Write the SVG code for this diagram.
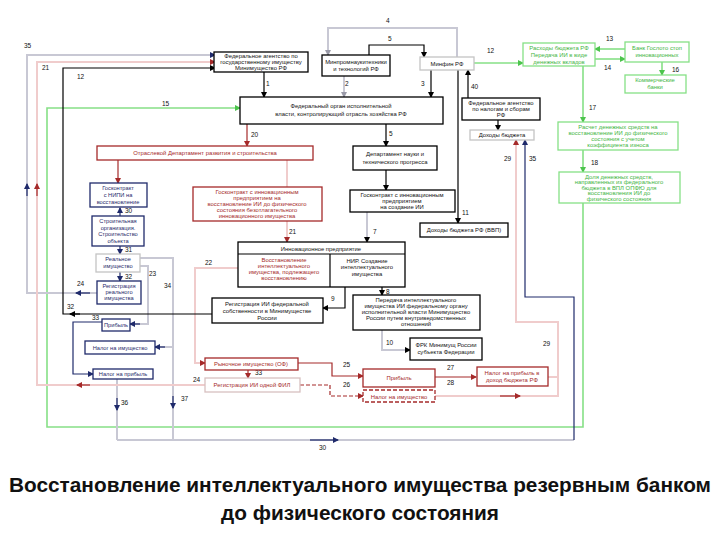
<svg xmlns="http://www.w3.org/2000/svg" width="720" height="540" viewBox="0 0 720 540">
<style>
.b{fill:#fff;stroke:#000;stroke-width:1.3}
.g{fill:#fff;stroke:#c4c4c4;stroke-width:1.3}
.r{fill:#fff;stroke:#a52a2a;stroke-width:1.3}
.rd{fill:#fff;stroke:#a52a2a;stroke-width:1.3;stroke-dasharray:4 2}
.rg{fill:#fff;stroke:#d8c0c0;stroke-width:1.3}
.n{fill:#fff;stroke:#1f2a6b;stroke-width:1.3}
.gn{fill:#fff;stroke:#86e086;stroke-width:1.3}
text{font-family:"Liberation Sans",Arial,sans-serif}
.t{font-size:5.9px;text-anchor:middle;fill:#111}
.tr{font-size:5.9px;text-anchor:middle;fill:#a52a2a}
.tn{font-size:5.7px;text-anchor:middle;fill:#1f2a6b}
.tg{font-size:5.9px;text-anchor:middle;fill:#3fb53f}
.l{font-size:6.5px;fill:#111}
.cap{font-size:20.8px;font-weight:bold;text-anchor:middle;fill:#111}
.k{fill:none;stroke:#000;stroke-width:1.2}
.gy{fill:none;stroke:#c8c8d4;stroke-width:2}
.rl{fill:none;stroke:#a52a2a;stroke-width:1.2}
.pk{fill:none;stroke:#f0cccc;stroke-width:2}
.nv{fill:none;stroke:#1f2a6b;stroke-width:1.2}
.gl{fill:none;stroke:#86e086;stroke-width:1.6}
</style>
<defs>
<marker id="ak" markerWidth="6" markerHeight="6" refX="5" refY="3" orient="auto" markerUnits="userSpaceOnUse"><path d="M0,0L6,3L0,6z" fill="#000"/></marker>
<marker id="ag" markerWidth="6" markerHeight="6" refX="5" refY="3" orient="auto" markerUnits="userSpaceOnUse"><path d="M0,0L6,3L0,6z" fill="#9a9aa8"/></marker>
<marker id="ar" markerWidth="6" markerHeight="6" refX="5" refY="3" orient="auto" markerUnits="userSpaceOnUse"><path d="M0,0L6,3L0,6z" fill="#a52a2a"/></marker>
<marker id="an" markerWidth="6" markerHeight="6" refX="5" refY="3" orient="auto" markerUnits="userSpaceOnUse"><path d="M0,0L6,3L0,6z" fill="#1f2a6b"/></marker>
<marker id="agn" markerWidth="6" markerHeight="6" refX="5" refY="3" orient="auto" markerUnits="userSpaceOnUse"><path d="M0,0L6,3L0,6z" fill="#4cc44c"/></marker>
</defs>
<rect width="720" height="540" fill="#fff"/>

<g id="connectors">
<path class="gy" d="M457,57V28H328V55" marker-end="url(#ag)"/>
<path class="k" d="M369,55V45H424V57" marker-end="url(#ak)"/>
<path class="k" d="M264,72V97" marker-end="url(#ak)"/>
<path class="gy" d="M344,76V97" marker-end="url(#ag)"/>
<path class="k" d="M431,70V97" marker-end="url(#ak)"/>
<path class="k" d="M468,98V70" marker-end="url(#ak)"/>
<path class="k" d="M458,70V223" marker-end="url(#ak)"/>
<path class="gl" d="M474,63H523" marker-end="url(#agn)"/>
<path class="gl" d="M625,49H595" marker-end="url(#agn)"/>
<path class="gl" d="M595,59H625" marker-end="url(#agn)"/>
<path class="gl" d="M662,62V75" marker-end="url(#agn)"/>
<path class="gl" d="M583,66V122" marker-end="url(#agn)"/>
<path class="gl" d="M583,150V172" marker-end="url(#agn)"/>
<path class="gl" d="M583,203V427H47V108H240" marker-end="url(#agn)"/>
<path class="k" d="M498,120V130" marker-end="url(#ak)"/>
<path class="rl" d="M247,124V146" marker-end="url(#ar)"/>
<path class="rl" d="M118,160V183" marker-end="url(#ar)"/>
<path class="pk" d="M287,160V187"/>
<path class="k" d="M386,124V146" marker-end="url(#ak)"/>
<path class="k" d="M386,170V190" marker-end="url(#ak)"/>
<path class="gy" d="M367,212V242" marker-end="url(#ak)"/>
<path class="pk" d="M287,221V242" marker-end="url(#ar)"/>
<path class="pk" d="M238,268H195V363H205" marker-end="url(#ar)"/>
<path class="k" d="M382,287V295" marker-end="url(#ak)"/>
<path class="k" d="M345,287V308H323" marker-end="url(#ak)"/>
<path class="gy" d="M382,330V350H410" marker-end="url(#ak)"/>
<path class="rl" d="M248,370V378" marker-end="url(#ar)"/>
<path class="rl" d="M298,363H332V376H363" marker-end="url(#ar)"/>
<path class="rl" d="M300,385H330V396H363" stroke-dasharray="4 2" marker-end="url(#ar)"/>
<path class="rl" d="M435,377H476" marker-end="url(#ar)"/>
<path class="pk" d="M435,396H558V322H516V140" marker-end="url(#ar)"/>
<path class="pk" d="M548,377H558"/>
<path class="rl" d="M500,396H520" marker-end="url(#ar)"/>
<path class="gy" d="M117,440H574"/>
<path class="nv" d="M574,440V297H525V140" marker-end="url(#an)"/>
<path class="nv" d="M310,440H338" stroke-width="2" marker-end="url(#an)"/>
<path class="gy" d="M117,379V440"/>
<path class="nv" d="M117,398V410" marker-end="url(#an)"/>
<path class="gy" d="M140,258H173V440"/>
<path class="nv" d="M173,396V408" marker-end="url(#an)"/>
<path class="gy" d="M173,347H157"/>
<path class="nv" d="M165,347H155" marker-end="url(#an)"/>
<path class="gy" d="M140,266H148V324H132"/>
<path class="nv" d="M140,324H130" marker-end="url(#an)"/>
<path class="nv" d="M102,322H73V374H93" marker-end="url(#an)"/>
<path class="nv" d="M120,216V208" stroke-width="1.6" marker-end="url(#an)"/>
<path class="nv" d="M120,246V254" stroke-width="1.6" marker-end="url(#an)"/>
<path class="nv" d="M120,272V281" stroke-width="1.6" marker-end="url(#an)"/>
<path class="gy" d="M97,293H27V55H215" marker-end="url(#an)"/>
<path class="nv" d="M90,293H76" stroke-width="1.6" marker-end="url(#an)"/>
<path class="nv" d="M27,196V184" marker-end="url(#an)"/>
<path class="pk" d="M205,385H37V62H215" marker-end="url(#ar)"/>
<path class="rl" d="M90,385H77" stroke-width="1.8" marker-end="url(#ar)"/>
<path class="rl" d="M37,196V184" marker-end="url(#ar)"/>
<path class="k" d="M212,314H63V68H215" marker-end="url(#ak)"/>
<path class="k" d="M80,314H70" marker-end="url(#ak)"/>
</g>

<g id="labels">
<text class="l" x="24" y="48">35</text>
<text class="l" x="42" y="70">21</text>
<text class="l" x="77" y="79">12</text>
<text class="l" x="162" y="106">15</text>
<text class="l" x="386" y="23">4</text>
<text class="l" x="388" y="41">5</text>
<text class="l" x="266" y="86">1</text>
<text class="l" x="345" y="86">2</text>
<text class="l" x="421" y="86">3</text>
<text class="l" x="471" y="89">40</text>
<text class="l" x="487" y="53">12</text>
<text class="l" x="606" y="41">13</text>
<text class="l" x="604" y="70">14</text>
<text class="l" x="672" y="72">16</text>
<text class="l" x="589" y="110">17</text>
<text class="l" x="591" y="165">18</text>
<text class="l" x="251" y="137">20</text>
<text class="l" x="389" y="136">5</text>
<text class="l" x="504" y="161">29</text>
<text class="l" x="529" y="161">35</text>
<text class="l" x="462" y="215">11</text>
<text class="l" x="125" y="213">30</text>
<text class="l" x="125" y="252">31</text>
<text class="l" x="125" y="279">32</text>
<text class="l" x="149" y="276">23</text>
<text class="l" x="164" y="288">34</text>
<text class="l" x="77" y="286">24</text>
<text class="l" x="67" y="309">32</text>
<text class="l" x="92" y="320">33</text>
<text class="l" x="205" y="265">22</text>
<text class="l" x="373" y="234">7</text>
<text class="l" x="289" y="234">21</text>
<text class="l" x="331" y="301">9</text>
<text class="l" x="386" y="294">8</text>
<text class="l" x="386" y="345">10</text>
<text class="l" x="255" y="375">33</text>
<text class="l" x="343" y="367">25</text>
<text class="l" x="343" y="387">26</text>
<text class="l" x="447" y="370">27</text>
<text class="l" x="447" y="385">28</text>
<text class="l" x="543" y="346">29</text>
<text class="l" x="193" y="382">24</text>
<text class="l" x="121" y="405">36</text>
<text class="l" x="181" y="401">37</text>
<text class="l" x="319" y="450">30</text>
</g>

<g id="n-fedagency"><rect class="b" x="214" y="52" width="94" height="20"/>
<text class="t" x="261" y="58">Федеральное агентство по</text><text class="t" x="261" y="64">государственному имуществу</text><text class="t" x="261" y="70">Минимущество РФ</text></g>
<g id="n-minprom"><rect class="b" x="322" y="55" width="68" height="21"/>
<text class="t" x="356" y="64">Минпромнаукитехники</text><text class="t" x="356" y="71">и технологий РФ</text></g>
<g id="n-minfin"><rect class="g" x="420" y="57" width="54" height="13"/>
<text class="t" x="447" y="65.5">Минфин РФ</text></g>
<g id="n-fedorgan"><rect class="b" x="240" y="97" width="203" height="27"/>
<text class="t" x="341" y="108">Федеральный орган исполнительной</text><text class="t" x="341" y="116">власти, контролирующий отрасль хозяйства РФ</text></g>
<g id="n-tax"><rect class="b" x="462" y="98" width="78" height="22"/>
<text class="t" x="501" y="105">Федеральное агентство</text><text class="t" x="501" y="111">по налогам и сборам</text><text class="t" x="501" y="117">РФ</text></g>
<g id="n-income"><rect class="g" x="470" y="130" width="64" height="10"/>
<text class="t" x="502" y="137">Доходы бюджета</text></g>
<g id="n-otrasl"><rect class="r" x="97" y="146" width="216" height="14"/>
<text class="tr" x="205" y="155">Отраслевой Департамент   развития и строительства</text></g>
<g id="n-dept"><rect class="b" x="353" y="146" width="84" height="24"/>
<text class="t" x="395" y="156">Департамент науки и</text><text class="t" x="395" y="164">технического прогресса</text></g>
<g id="n-gkinno"><rect class="b" x="350" y="190" width="105" height="22"/>
<text class="t" x="402" y="197">Госконтракт с инновационным</text><text class="t" x="402" y="203">предприятием</text><text class="t" x="402" y="209">на создание ИИ</text></g>
<g id="n-incomerf"><rect class="b" x="420" y="223" width="88" height="14"/>
<text class="t" x="464" y="232">Доходы бюджета РФ (ВВП)</text></g>
<g id="n-gkred"><rect class="r" x="193" y="187" width="129" height="34"/>
<text class="tr" x="257" y="194">Госконтракт с инновационным</text><text class="tr" x="257" y="200">предприятием на</text><text class="tr" x="257" y="206">восстановление ИИ до физического</text><text class="tr" x="257" y="212">состояния безотлагательного</text><text class="tr" x="257" y="218">инновационного имущества</text></g>
<g id="n-innov"><rect class="b" x="238" y="242" width="167" height="45"/>
<line x1="238" y1="254" x2="405" y2="254" stroke="#000" stroke-width="1.2"/>
<line x1="330" y1="254" x2="330" y2="287" stroke="#000" stroke-width="1.2"/>
<text class="t" x="321" y="250.5">Инновационное предприятие</text>
<text class="tr" x="284" y="262">Восстановление</text><text class="tr" x="284" y="268">интеллектуального</text><text class="tr" x="284" y="274">имущества, подлежащего</text><text class="tr" x="284" y="280">восстановлению</text>
<text class="t" x="367" y="263">НИР. Создание</text><text class="t" x="367" y="269">интеллектуального</text><text class="t" x="367" y="276">имущества</text></g>
<g id="n-regfed"><rect class="b" x="212" y="298" width="111" height="25"/>
<text class="t" x="267" y="306">Регистрация ИИ федеральной</text><text class="t" x="267" y="313">собственности в Минимуществе</text><text class="t" x="267" y="320">России</text></g>
<g id="n-transfer"><rect class="b" x="353" y="295" width="127" height="35"/>
<text class="t" x="416" y="302">Передача интеллектуального</text><text class="t" x="416" y="308">имущества ИИ федеральному органу</text><text class="t" x="416" y="314">исполнительной власти Минимущество</text><text class="t" x="416" y="320">России путем внутриведомственных</text><text class="t" x="416" y="326">отношений</text></g>
<g id="n-frk"><rect class="b" x="410" y="338" width="72" height="22"/>
<text class="t" x="446" y="347">ФРК Минимущ России</text><text class="t" x="446" y="354">субъекта Федерации</text></g>
<g id="n-market"><rect class="r" x="205" y="358" width="93" height="12"/>
<text class="tr" x="251" y="366">Рыночное имущество (ОФ)</text></g>
<g id="n-regii"><rect class="rg" x="205" y="378" width="95" height="14"/>
<text class="tr" x="252" y="387">Регистрация ИИ одной ФИЛ</text></g>
<g id="n-profitr"><rect class="r" x="363" y="369" width="72" height="18"/>
<text class="tr" x="399" y="380">Прибыль</text></g>
<g id="n-taxpropr"><rect class="rd" x="363" y="390" width="72" height="12"/>
<text class="tr" x="399" y="398.5">Налог на имущество</text></g>
<g id="n-taxprofitr"><rect class="r" x="477" y="367" width="71" height="19"/>
<text class="tr" x="512" y="375">Налог на прибыль в</text><text class="tr" x="512" y="382">доход бюджета РФ</text></g>
<g id="n-gknipi"><rect class="n" x="90" y="183" width="57" height="24"/>
<text class="tn" x="118" y="190">Госконтракт</text><text class="tn" x="118" y="197">с НИПИ на</text><text class="tn" x="118" y="204">восстановление</text></g>
<g id="n-stroy"><rect class="n" x="92" y="216" width="52" height="30"/>
<text class="tn" x="118" y="223">Строительная</text><text class="tn" x="118" y="229.5">организация.</text><text class="tn" x="118" y="236">Строительство</text><text class="tn" x="118" y="242.5">объекта</text></g>
<g id="n-real"><rect class="g" x="96" y="254" width="44" height="18"/>
<text class="tn" x="118" y="261">Реальное</text><text class="tn" x="118" y="268">имущество</text></g>
<g id="n-regreal"><rect class="n" x="97" y="281" width="44" height="23"/>
<text class="tn" x="119" y="288">Регистрация</text><text class="tn" x="119" y="294">реального</text><text class="tn" x="119" y="300">имущества</text></g>
<g id="n-profitn"><rect class="n" x="102" y="319" width="28" height="12"/>
<text class="tn" x="116" y="327">Прибыль</text></g>
<g id="n-taxpropn"><rect class="n" x="85" y="341" width="70" height="13"/>
<text class="tn" x="120" y="349.5">Налог на имущество</text></g>
<g id="n-taxprofitn"><rect class="n" x="93" y="369" width="60" height="10"/>
<text class="tn" x="123" y="376">Налог на прибыль</text></g>
<g id="n-spend"><rect class="gn" x="523" y="43" width="72" height="23"/>
<text class="tg" x="559" y="50">Расходы бюджета РФ</text><text class="tg" x="559" y="57">Передача ИИ в виде</text><text class="tg" x="559" y="64">денежных вкладов</text></g>
<g id="n-bank"><rect class="gn" x="625" y="42" width="64" height="20"/>
<text class="tg" x="657" y="50">Банк Гослото стоп</text><text class="tg" x="657" y="57">инновационных</text></g>
<g id="n-combank"><rect class="gn" x="625" y="75" width="61" height="18"/>
<text class="tg" x="655" y="82">Коммерческие</text><text class="tg" x="655" y="89">банки</text></g>
<g id="n-calc"><rect class="gn" x="558" y="122" width="120" height="28"/>
<text class="tg" x="618" y="129">Расчет денежных средств на</text><text class="tg" x="618" y="135">восстановление ИИ до физического</text><text class="tg" x="618" y="141">состояния с учетом</text><text class="tg" x="618" y="147">коэффициента износа</text></g>
<g id="n-share"><rect class="gn" x="559" y="172" width="121" height="31"/>
<text class="tg" x="619" y="178.5">Доля денежных средств,</text><text class="tg" x="619" y="184">направленных из федерального</text><text class="tg" x="619" y="189.5">бюджета в ВПЛ ОПФЮ для</text><text class="tg" x="619" y="195">восстановления ИИ до</text><text class="tg" x="619" y="200.5">физического состояния</text></g>

<g id="caption">
<text class="cap" x="360" y="492">Восстановление интеллектуального имущества резервным банком</text>
<text class="cap" x="360" y="520">до физического состояния</text>
</g>
</svg>
